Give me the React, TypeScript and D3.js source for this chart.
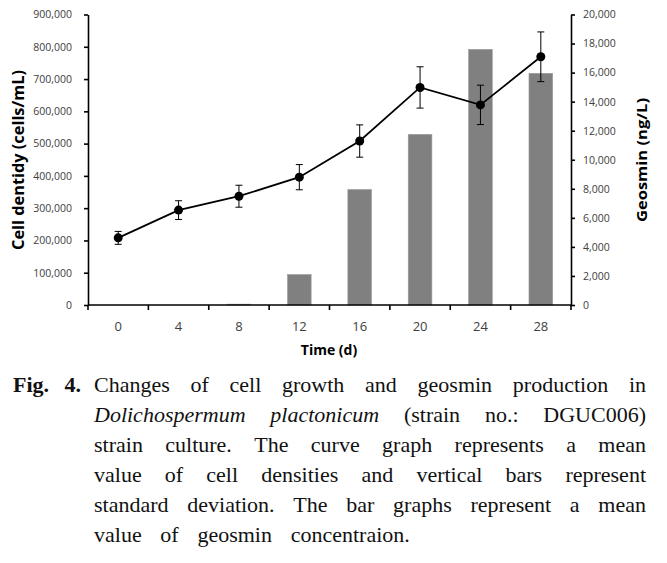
import React, { useEffect, useRef } from "react";
import * as d3 from "d3";

const days = ["0", "4", "8", "12", "16", "20", "24", "28"];
const cellDensity = [208000, 294000, 337000, 396000, 508000, 674000, 620000, 769000];
const cellSD = [20000, 29000, 34000, 39000, 50000, 64000, 61000, 77000];
const geosmin = [0, 0, 60, 2100, 7950, 11750, 17600, 15950];
const leftTicks = [0, 100000, 200000, 300000, 400000, 500000, 600000, 700000, 800000, 900000];
const rightTicks = [0, 2000, 4000, 6000, 8000, 10000, 12000, 14000, 16000, 18000, 20000];

const leftTitle = "Cell dentidy (cells/mL)";
const rightTitle = "Geosmin (ng/L)";
const xTitle = "Time (d)";

type Word = { t: string; i?: boolean };
const captionLines: Word[][] = [
  "Changes of cell growth and geosmin production in".split(" ").map((t) => ({ t })),
  [{ t: "Dolichospermum", i: true }, { t: "plactonicum", i: true }, { t: "(strain" }, { t: "no.:" }, { t: "DGUC006)" }],
  "strain culture. The curve graph represents a mean".split(" ").map((t) => ({ t })),
  "value of cell densities and vertical bars represent".split(" ").map((t) => ({ t })),
  "standard deviation. The bar graphs represent a mean".split(" ").map((t) => ({ t })),
  "value of geosmin concentraion.".split(" ").map((t) => ({ t })),
];

const W = 667;
const H = 563;
const FONT = "'Open Sans', 'Noto Sans', sans-serif";
const SERIF = "'Liberation Serif', 'Times New Roman', serif";

export default function App() {
  const ref = useRef<SVGSVGElement>(null);

  useEffect(() => {
    const svg = d3.select(ref.current);
    svg.selectAll("*").remove();

    const left = 88, right = 571, top = 14.5, bottom = 305;
    const x = d3.scaleBand<string>().domain(days).range([left, right]).paddingInner(0.608).paddingOuter(0.304);
    const xCat = d3.scaleBand<string>().domain(days).range([left, right]).padding(0);
    const yL = d3.scaleLinear().domain([0, 900000]).range([bottom, top]);
    const yR = d3.scaleLinear().domain([0, 20000]).range([bottom, top]);
    const cx = (d: string) => (xCat(d) as number) + xCat.bandwidth() / 2;

    // bars
    svg.append("g")
      .selectAll("rect")
      .data(geosmin)
      .join("rect")
      .attr("x", (_, i) => x(days[i]) as number)
      .attr("width", x.bandwidth())
      .attr("y", (d) => yR(d))
      .attr("height", (d) => bottom - yR(d))
      .attr("fill", "#808080")
      .attr("stroke", "#9a9a9a")
      .attr("stroke-width", 0.6);

    // left axis
    const gL = svg.append("g").attr("transform", `translate(${left},0)`)
      .call(d3.axisLeft(yL).tickValues(leftTicks).tickFormat(d3.format(",") as any).tickSize(4).tickPadding(12).tickSizeOuter(0));
    // right axis
    const gR = svg.append("g").attr("transform", `translate(${right},0)`)
      .call(d3.axisRight(yR).tickValues(rightTicks).tickFormat(d3.format(",") as any).tickSize(4).tickPadding(8).tickSizeOuter(0));
    [gL, gR].forEach((g) => {
      g.select(".domain").attr("stroke", "#000").attr("stroke-width", 1.6);
      g.selectAll(".tick line").attr("stroke", "#000").attr("stroke-width", 1.6);
      g.selectAll(".tick text").attr("fill", "#404040").attr("font-size", 10.5).attr("font-family", FONT);
    });

    // bottom axis
    const gB = svg.append("g");
    gB.append("line").attr("x1", left).attr("x2", right).attr("y1", bottom).attr("y2", bottom)
      .attr("stroke", "#000").attr("stroke-width", 1.6);
    const bounds = days.map((d) => xCat(d) as number).concat([right]);
    gB.selectAll("line.tk").data(bounds).join("line").attr("class", "tk")
      .attr("x1", (d) => d).attr("x2", (d) => d).attr("y1", bottom).attr("y2", bottom + 5)
      .attr("stroke", "#000").attr("stroke-width", 1.6);
    gB.selectAll("text").data(days).join("text")
      .attr("x", (d) => cx(d)).attr("y", 331)
      .attr("text-anchor", "middle").attr("font-size", 13).attr("font-family", FONT).attr("fill", "#404040")
      .text((d) => d);

    // error bars
    const eb = svg.append("g").attr("stroke", "#000").attr("stroke-width", 1);
    days.forEach((d, i) => {
      const xc = cx(d);
      const y1 = yL(cellDensity[i] + cellSD[i]);
      const y2 = yL(cellDensity[i] - cellSD[i]);
      eb.append("line").attr("x1", xc).attr("x2", xc).attr("y1", y1).attr("y2", y2);
      eb.append("line").attr("x1", xc - 3.5).attr("x2", xc + 3.5).attr("y1", y1).attr("y2", y1);
      eb.append("line").attr("x1", xc - 3.5).attr("x2", xc + 3.5).attr("y1", y2).attr("y2", y2);
    });

    // line
    const line = d3.line<number>().x((_, i) => cx(days[i])).y((d) => yL(d));
    svg.append("path").datum(cellDensity).attr("d", line).attr("fill", "none")
      .attr("stroke", "#000").attr("stroke-width", 1.8);
    svg.append("g").selectAll("circle").data(cellDensity).join("circle")
      .attr("cx", (_, i) => cx(days[i])).attr("cy", (d) => yL(d)).attr("r", 4.5).attr("fill", "#000");

    // axis titles
    svg.append("text").attr("transform", "translate(24,160) rotate(-90)")
      .attr("text-anchor", "middle").attr("font-size", 16).attr("font-weight", 700).attr("font-family", FONT)
      .attr("textLength", 180).attr("lengthAdjust", "spacingAndGlyphs").text(leftTitle);
    svg.append("text").attr("transform", "translate(647,160) rotate(-90)")
      .attr("text-anchor", "middle").attr("font-size", 15).attr("font-weight", 700).attr("font-family", FONT)
      .attr("textLength", 124).attr("lengthAdjust", "spacingAndGlyphs").text(rightTitle);
    svg.append("text").attr("x", 329).attr("y", 355)
      .attr("text-anchor", "middle").attr("font-size", 14).attr("font-weight", 700).attr("font-family", FONT)
      .text(xTitle);

    // caption
    const fs = 22;
    const ctx = document.createElement("canvas").getContext("2d")!;
    const measure = (w: Word) => {
      ctx.font = `${w.i ? "italic " : ""}${fs}px 'Liberation Serif'`;
      return ctx.measureText(w.t).width;
    };
    const cg = svg.append("g").attr("font-family", SERIF).attr("font-size", fs).attr("fill", "#111");
    cg.append("text").attr("x", 13).attr("y", 392).attr("font-weight", 700).text("Fig.");
    cg.append("text").attr("x", 81).attr("y", 392).attr("font-weight", 700).attr("text-anchor", "end").text("4.");
    const x0 = 94, x1 = 646, lineH = 30, y0 = 392;
    let lastGap = 10;
    captionLines.forEach((words, li) => {
      const widths = words.map(measure);
      const total = d3.sum(widths);
      const justify = li < captionLines.length - 1;
      const gap = justify ? (x1 - x0 - total) / (words.length - 1) : lastGap;
      if (justify) lastGap = gap;
      let xx = x0;
      words.forEach((w, wi) => {
        cg.append("text").attr("x", xx).attr("y", y0 + li * lineH)
          .attr("font-style", w.i ? "italic" : "normal").text(w.t);
        xx += widths[wi] + gap;
      });
    });
  }, []);

  return (
    <svg ref={ref} width={W} height={H} style={{ position: "absolute", left: 0, top: 0, background: "#fff" }} />
  );
}
